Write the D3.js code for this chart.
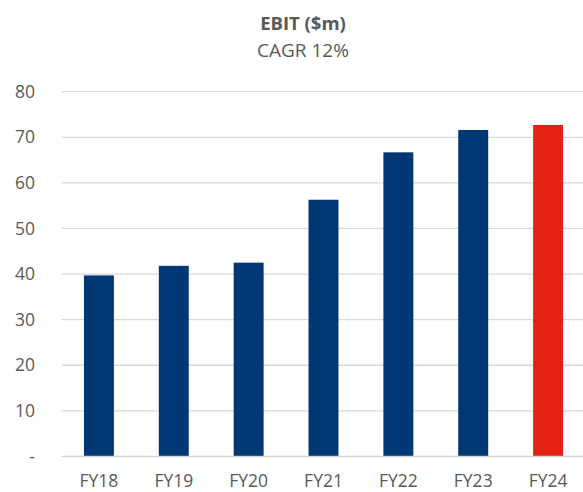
<!DOCTYPE html>
<html>
<head>
<meta charset="utf-8">
<script src="https://cdn.jsdelivr.net/npm/d3@7"></script>
<style>
  html, body { margin: 0; padding: 0; background: #fff; }
  svg text { font-family: "Open Sans", "Noto Sans", sans-serif; }
</style>
</head>
<body>
<svg id="chart" width="583" height="492"></svg>
<script>
// EBIT by financial year ($m)
const categories = ["FY18", "FY19", "FY20", "FY21", "FY22", "FY23", "FY24"];
const ebitValues = [39.7, 41.8, 42.5, 56.3, 66.7, 71.6, 72.7];
const tickValues = [0, 10, 20, 30, 40, 50, 60, 70, 80];
const tickLabels = ["-", "10", "20", "30", "40", "50", "60", "70", "80"];
const barColors = ["#003875", "#003875", "#003875", "#003875", "#003875", "#003875", "#e32213"];

const svg = d3.select("#chart");

const x = d3.scaleBand()
  .domain(categories)
  .range([61.5, 585.5])
  .paddingInner(0.6)
  .paddingOuter(0.3);

const y = d3.scaleLinear()
  .domain([0, 80])
  .range([456.4, 91.7]);

// horizontal gridlines
svg.append("g")
  .selectAll("line")
  .data(tickValues.filter(d => d > 0))
  .join("line")
  .attr("x1", 61.5)
  .attr("x2", 583)
  .attr("y1", d => y(d))
  .attr("y2", d => y(d))
  .attr("stroke", "#d9d9d9")
  .attr("stroke-width", 1.3);

// y-axis tick labels
const yAxis = d3.axisLeft(y)
  .tickValues(tickValues)
  .tickFormat((d, i) => tickLabels[i])
  .tickSize(0)
  .tickPadding(0);

svg.append("g")
  .attr("transform", "translate(35,0)")
  .call(yAxis)
  .call(g => g.select(".domain").remove())
  .call(g => g.selectAll("text")
    .attr("fill", "#595959")
    .attr("font-size", 17.5));

// bars
svg.append("g")
  .selectAll("rect")
  .data(ebitValues)
  .join("rect")
  .attr("x", (d, i) => x(categories[i]))
  .attr("width", x.bandwidth())
  .attr("y", d => y(d))
  .attr("height", d => y(0) - y(d))
  .attr("fill", (d, i) => barColors[i]);

// baseline
svg.append("line")
  .attr("x1", 61.5)
  .attr("x2", 583)
  .attr("y1", y(0))
  .attr("y2", y(0))
  .attr("stroke", "#d0d0d0")
  .attr("stroke-width", 1.3);

// x-axis category labels
const xAxis = d3.axisBottom(x).tickSize(0).tickPadding(0);
svg.append("g")
  .attr("transform", "translate(0,475)")
  .call(xAxis)
  .call(g => g.select(".domain").remove())
  .call(g => g.selectAll("text")
    .attr("fill", "#595959")
    .attr("font-size", 17.5));

// titles
svg.append("text")
  .attr("x", 303)
  .attr("y", 30)
  .attr("text-anchor", "middle")
  .attr("font-size", 18.5)
  .attr("font-weight", "bold")
  .attr("fill", "#595959")
  .text("EBIT ($m)");

svg.append("text")
  .attr("x", 303)
  .attr("y", 57)
  .attr("text-anchor", "middle")
  .attr("font-size", 19)
  .attr("fill", "#595959")
  .text("CAGR 12%");
</script>
</body>
</html>
